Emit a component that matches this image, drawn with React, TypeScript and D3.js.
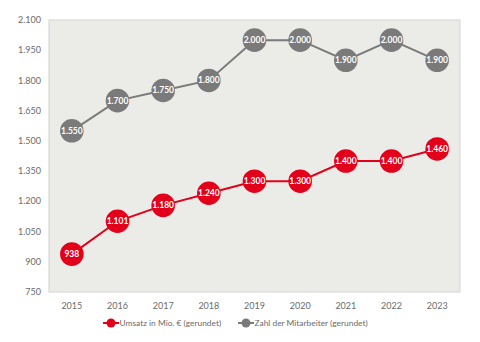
import React from "react";
import * as d3 from "d3";

const years = ["2015", "2016", "2017", "2018", "2019", "2020", "2021", "2022", "2023"];
const umsatz = [938, 1101, 1180, 1240, 1300, 1300, 1400, 1400, 1460];
const mitarbeiter = [1550, 1700, 1750, 1800, 2000, 2000, 1900, 2000, 1900];
const yTicks = [750, 900, 1050, 1200, 1350, 1500, 1650, 1800, 1950, 2100];
const seriesNames = ["Umsatz in Mio. € (gerundet)", "Zahl der Mitarbeiter (gerundet)"];

const W = 480, H = 342;
const L = 49, R = 460, T = 20, B = 292;
const RED = "#e2001a";
const GRAY = "#7a7a7a";
const FONT = "Lato, 'Open Sans', sans-serif";

const fmt = (v: number) => d3.format(",")(v).replace(/,/g, ".");

export default function App() {
  const x = d3.scalePoint<string>().domain(years).range([L, R]).padding(0.5);
  const y = d3.scaleLinear().domain([750, 2100]).range([B, T]);
  const line = d3.line<number>().x((_, i) => x(years[i])!).y((d) => y(d));

  const series = [
    { vals: umsatz, color: RED },
    { vals: mitarbeiter, color: GRAY },
  ];

  return (
    <svg width={W} height={H} style={{ position: "absolute", left: 0, top: 0, fontFamily: FONT }}>
      <rect x={0} y={0} width={W} height={H} fill="#fff" />
      <rect x={L} y={T} width={R - L} height={B - T} fill="#ebebe7" stroke="#d4d4d4" strokeWidth={1} />
      {yTicks.map((t) => (
        <text key={t} x={L - 8} y={y(t)} dy="0.35em" textAnchor="end" fontSize={9} fill="#6b6b6b">
          {fmt(t)}
        </text>
      ))}
      {years.map((yr) => (
        <text key={yr} x={x(yr)} y={B + 14} dy="0.35em" textAnchor="middle" fontSize={9} fill="#6b6b6b">
          {yr}
        </text>
      ))}
      {series.map((s, si) => (
        <g key={si}>
          <path d={line(s.vals)!} fill="none" stroke={s.color} strokeWidth={2} />
          {s.vals.map((v, i) => (
            <g key={i}>
              <circle cx={x(years[i])} cy={y(v)} r={11.8} fill={s.color} />
              <text x={x(years[i])} y={y(v)} dy="0.35em" textAnchor="middle" fontSize={8.5} fontWeight="bold" fill="#fff">
                {fmt(v)}
              </text>
            </g>
          ))}
        </g>
      ))}
      {series.map((s, si) => {
        const lx = si === 0 ? 103 : 238;
        return (
          <g key={"lg" + si}>
            <line x1={lx} x2={lx + 16} y1={323} y2={323} stroke={s.color} strokeWidth={2} />
            <circle cx={lx + 8} cy={323} r={4.5} fill={s.color} />
            <text x={lx + 16.5} y={323} dy="0.35em" fontSize={8.4} fill="#6b6b6b">
              {seriesNames[si]}
            </text>
          </g>
        );
      })}
    </svg>
  );
}
